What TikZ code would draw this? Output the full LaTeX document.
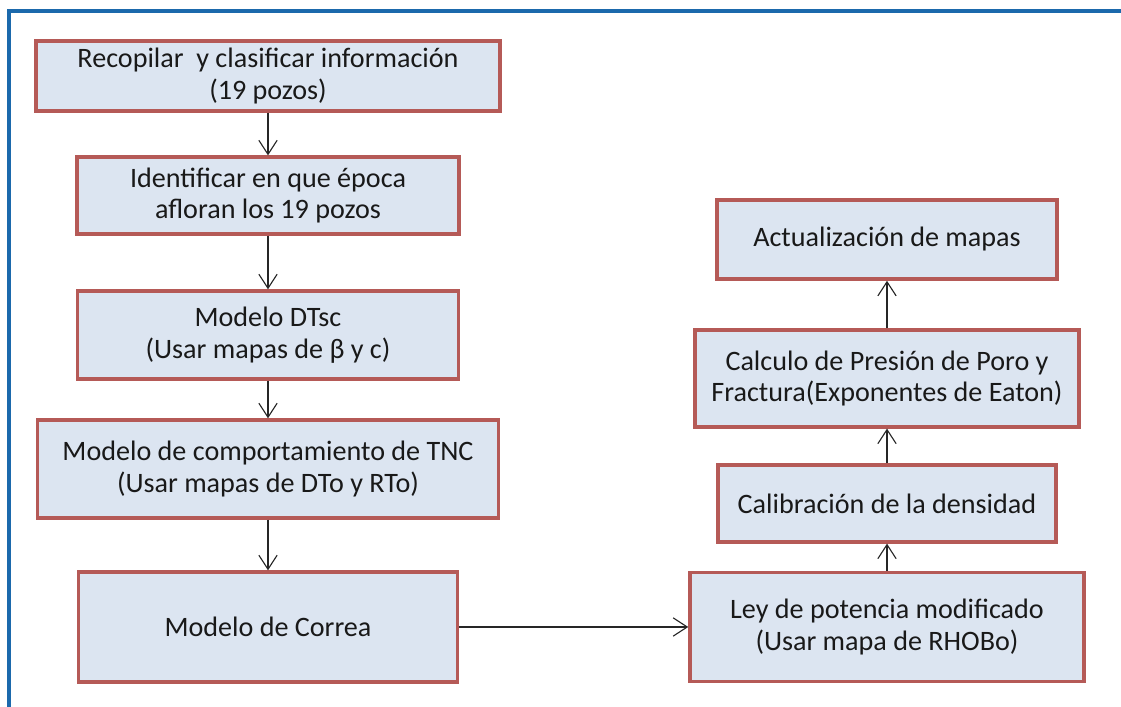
\documentclass[tikz,border=0pt]{standalone}
\usepackage{fontspec}
\setmainfont{Carlito}
\usetikzlibrary{arrows.meta}

\definecolor{cajafondo}{HTML}{DCE5F1}
\definecolor{cajaborde}{HTML}{B55A57}
\definecolor{marco}{HTML}{1B69AC}

\begin{document}
\begin{tikzpicture}[x=0.025cm, y=-0.025cm, >={Straight Barb[length=10pt, width=13pt]}]
  % Estilos del diagrama
  \tikzset{
    caja/.style={draw=cajaborde, fill=cajafondo, line width=2.4pt, align=center,
                 text=black!90, inner sep=0pt,
                 font=\fontsize{20}{22.5}\selectfont},
    flecha/.style={->, line width=0.8pt, black!85},
    borde/.style={marco, line width=3pt}
  }

  % Margenes de la figura
  \useasboundingbox (0,0) rectangle (1121,707);

  % Marco azul (solo arriba y a la izquierda)
  \draw[borde] (9,707) -- (9,11) -- (1121,11);

  % --- Columna izquierda ---
  \node[caja, minimum width=11.6cm, minimum height=1.75cm] (recopilar) at (268,76)
    {Recopilar~ y clasificar información\\(19 pozos)};
  \node[caja, minimum width=9.55cm, minimum height=1.92cm] (epoca) at (268,195.5)
    {Identificar en que época\\afloran los 19 pozos};
  \node[caja, minimum width=9.52cm, minimum height=2.2cm] (dtsc) at (268,335)
    {Modelo DTsc\\(Usar mapas de β y c)};
  \node[caja, minimum width=11.52cm, minimum height=2.45cm] (tnc) at (268,469)
    {Modelo de comportamiento de TNC\\(Usar mapas de DTo y RTo)};
  \node[caja, minimum width=9.48cm, minimum height=2.75cm] (correa) at (268,627)
    {Modelo de Correa};

  % --- Columna derecha ---
  \node[caja, minimum width=9.85cm, minimum height=2.72cm] (ley) at (887,627)
    {Ley de potencia modificado\\(Usar mapa de RHOBo)};
  \node[caja, minimum width=8.45cm, minimum height=1.92cm] (densidad) at (887,503.5)
    {Calibración de la densidad};
  \node[caja, minimum width=9.6cm, minimum height=2.42cm] (presion) at (887,378.5)
    {Calculo de Presión de Poro y\\Fractura(Exponentes de Eaton)};
  \node[caja, minimum width=8.5cm, minimum height=1.98cm] (mapas) at (887,239.5)
    {Actualización de mapas};

  % Conexiones
  \draw[flecha] (recopilar) -- (epoca);
  \draw[flecha] (epoca) -- (dtsc);
  \draw[flecha] (dtsc) -- (tnc);
  \draw[flecha] (tnc) -- (correa);
  \draw[flecha] (correa) -- (ley);
  \draw[flecha] (ley) -- (densidad);
  \draw[flecha] (densidad) -- (presion);
  \draw[flecha] (presion) -- (mapas);

\end{tikzpicture}
\end{document}
